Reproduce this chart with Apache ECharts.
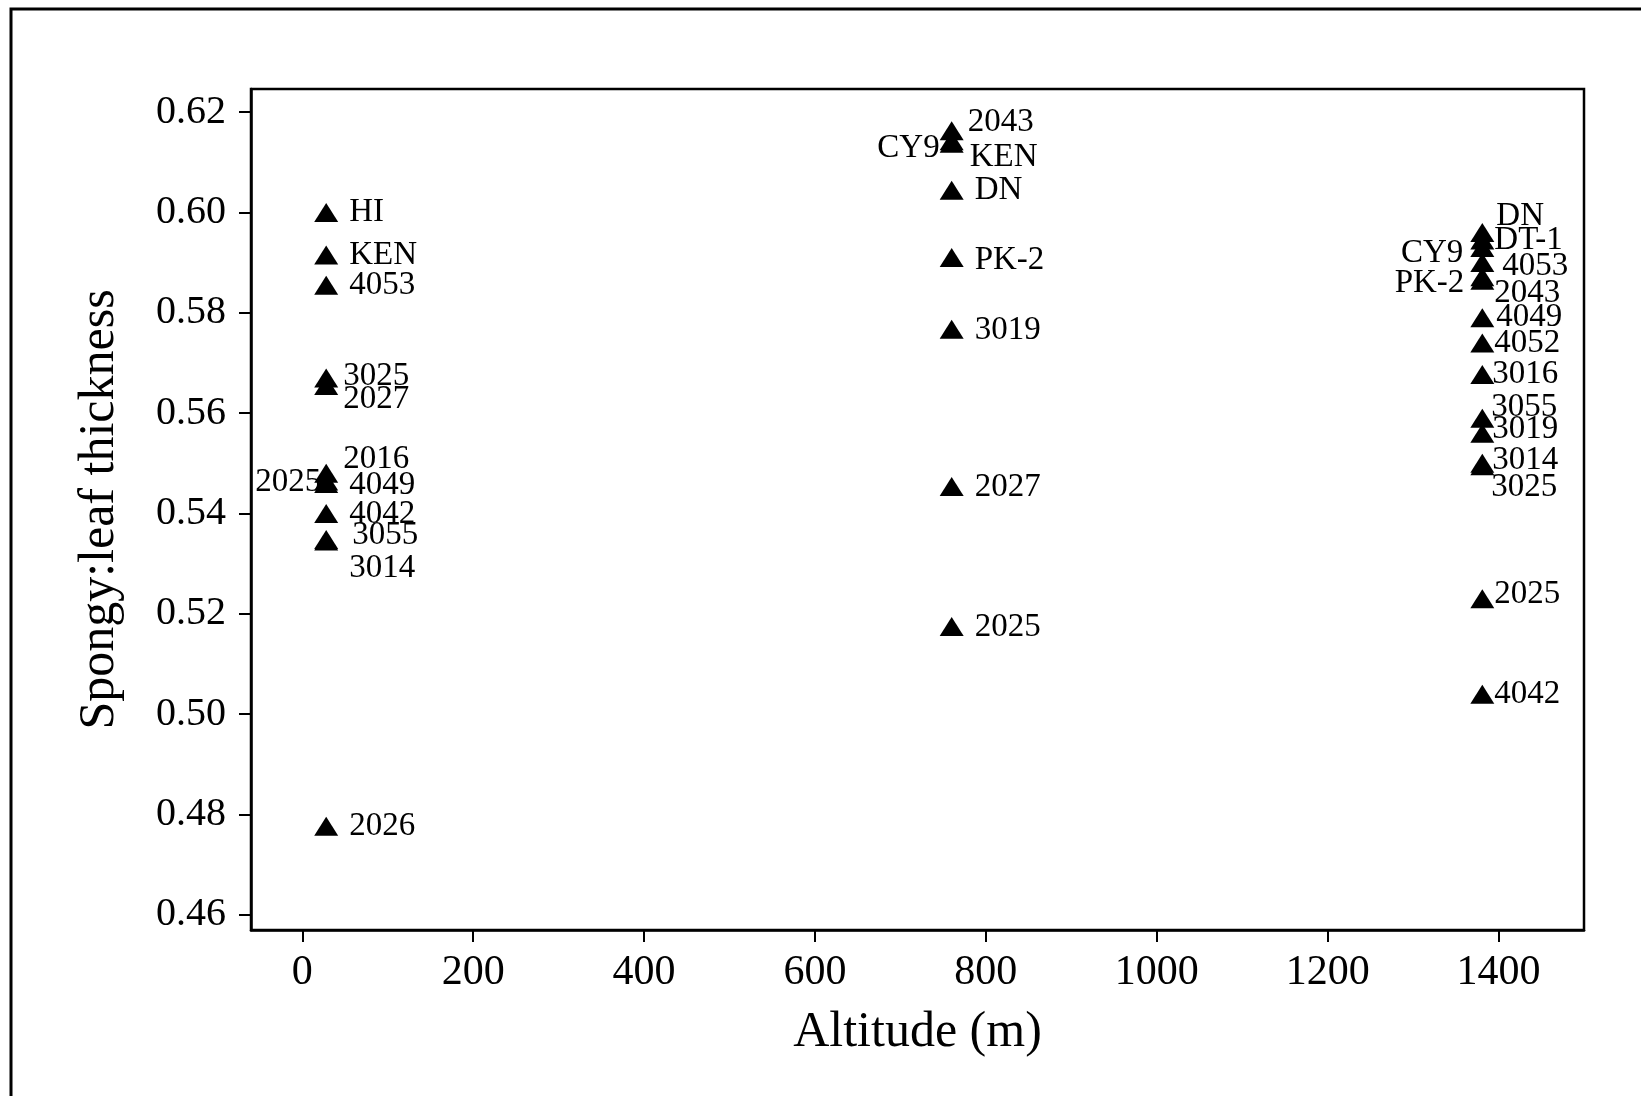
<!DOCTYPE html>
<html>
<head>
<meta charset="utf-8">
<title>Spongy:leaf thickness vs altitude</title>
<script src="https://cdn.jsdelivr.net/npm/echarts@6/dist/echarts.min.js"></script>
<style>
    html, body { margin: 0; padding: 0; background: #fff; }
    #mainChart { width: 1641px; height: 1096px; }
</style>
</head>
<body>
<div id="mainChart"></div>
<script>
// altitude of each site (m)
var lowAlt = 28, midAlt = 760, highAlt = 1381;

var lowNames  = ['HI', 'KEN', '4053', '3025', '2027', '2016', '2025', '4049', '4042', '3055', '3014', '2026'];
var lowValues = [0.600, 0.5915, 0.5855, 0.567, 0.5655, 0.548, 0.5465, 0.546, 0.540, 0.5348, 0.5345, 0.4777];

var midNames  = ['2043', 'CY9', 'KEN', 'DN', 'PK-2', '3019', '2027', '2025'];
var midValues = [0.6163, 0.6143, 0.6138, 0.6044, 0.591, 0.5767, 0.5454, 0.5175];

var highNames  = ['DN', 'DT-1', 'CY9', '4053', 'PK-2', '2043', '4049', '4052', '3016', '3055', '3019', '3014', '3025', '2025', '4042'];
var highValues = [0.596, 0.5945, 0.593, 0.590, 0.5872, 0.5865, 0.579, 0.574, 0.5677, 0.559, 0.556, 0.550, 0.5495, 0.523, 0.504];

var xTicks = [0, 200, 400, 600, 800, 1000, 1200, 1400];
var yTicks = [0.46, 0.48, 0.50, 0.52, 0.54, 0.56, 0.58, 0.60, 0.62];

// label nudges [dx, dy, side] so the text sits like the original
var lowShift = [[0,0],[0,0],[0,0],[-6,-2],[-6,14],[-6,-14],[18,1,'l'],[0,2],[0,1],[3,-4],[0,27],[0,0]];
var midShift = [[-7,-8],[11,8,'l'],[-5,14],[0,0],[0,3],[0,1],[0,1],[0,1]];
var highShift = [[-9,-16],[-11,0],[4,6,'l'],[-3,4],[5,7,'l'],[-11,13],[-9,0],[-11,0],[-13,0],[-14,-11],[-13,-4],[-13,-3],[-14,21],[-11,-4],[-11,0]];

var serif = '"Liberation Serif", "DejaVu Serif", serif';
var myChart = echarts.init(document.getElementById('mainChart'));

function buildData(alt, names, values, shifts){
    var out = [];
    for (var i = 0; i < names.length; i++) {
        var s = shifts[i];
        out.push({
            name: names[i],
            value: [alt, values[i]],
            label: {
                position: s[2] == 'l' ? 'left' : 'right',
                offset: [s[0], s[1]]
            }
        });
    }
    return out;
}

function drawing(){
    var data = []
        .concat(buildData(lowAlt, lowNames, lowValues, lowShift))
        .concat(buildData(midAlt, midNames, midValues, midShift))
        .concat(buildData(highAlt, highNames, highValues, highShift));

    var option = {
        backgroundColor: '#fff',
        animation: false,
        textStyle: { fontFamily: serif, color: '#000' },
        graphic: [
            {
                type: 'rect',
                shape: { x: 11, y: 9, width: 3000, height: 3000 },
                style: { fill: null, stroke: '#000', lineWidth: 3 },
                silent: true
            }
        ],
        grid: {
            left: 251, top: 89, right: 57, bottom: 166,
            show: true, borderColor: '#000', borderWidth: 2.5,
            containLabel: false, outerBoundsMode: 'none'
        },
        xAxis: {
            type: 'value',
            min: -60, max: 1500,
            name: 'Altitude (m)',
            nameLocation: 'middle',
            nameGap: 78,
            nameTextStyle: { fontFamily: serif, fontSize: 50, color: '#000' },
            splitLine: { show: false },
            axisLine: { show: true, onZero: false, lineStyle: { color: '#000', width: 2.5 } },
            axisTick: { show: true, length: 12, customValues: xTicks, lineStyle: { color: '#000', width: 2 } },
            axisLabel: {
                customValues: xTicks, margin: 22, fontFamily: serif, fontSize: 42, color: '#000',
                formatter: function(v){ return String(v); }
            }
        },
        yAxis: {
            type: 'value',
            min: 0.457, max: 0.6246,
            name: 'Spongy:leaf thickness',
            nameLocation: 'middle',
            nameGap: 126,
            nameTextStyle: { fontFamily: serif, fontSize: 50, color: '#000' },
            splitLine: { show: false },
            axisLine: { show: true, onZero: false, lineStyle: { color: '#000', width: 2.5 } },
            axisTick: { show: true, length: 12, customValues: yTicks, lineStyle: { color: '#000', width: 2 } },
            axisLabel: {
                customValues: yTicks, margin: 25, fontFamily: serif, fontSize: 40, color: '#000',
                formatter: function(v){ return v.toFixed(2); }
            }
        },
        series: [
            {
                type: 'scatter',
                symbol: 'triangle',
                symbolSize: [24, 19],
                itemStyle: { color: '#000', opacity: 1 },
                label: {
                    show: true,
                    formatter: '{b}',
                    distance: 11,
                    fontFamily: serif,
                    fontSize: 33,
                    color: '#000'
                },
                data: data
            }
        ]
    };
    myChart.setOption(option);
}

drawing();
</script>
</body>
</html>
